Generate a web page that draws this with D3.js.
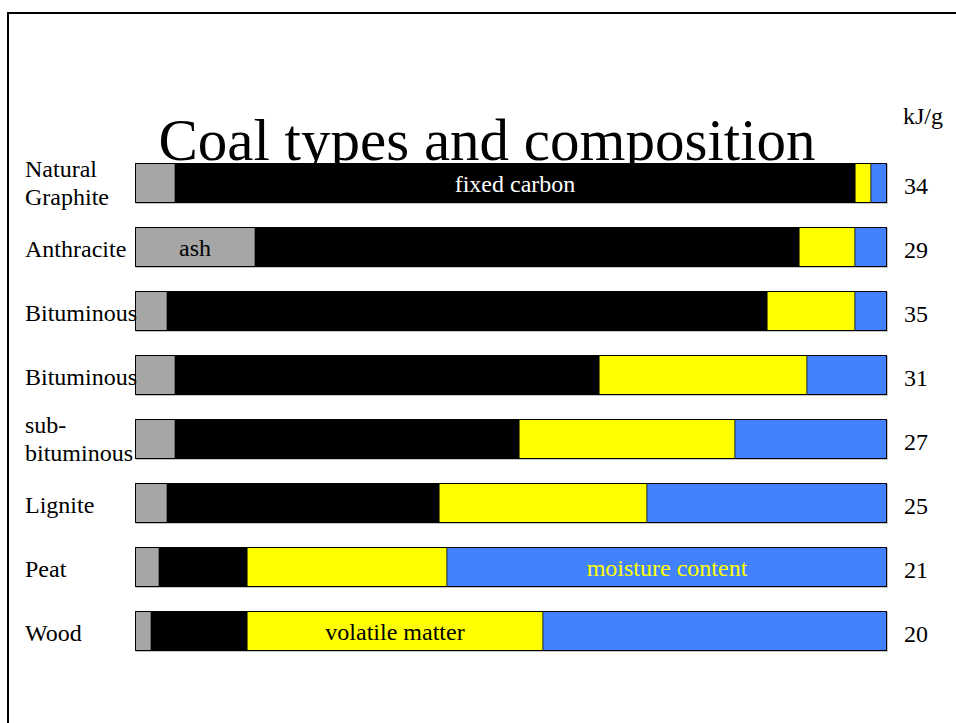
<!DOCTYPE html>
<html>
<head>
<meta charset="utf-8">
<script src="https://cdn.jsdelivr.net/npm/d3@7"></script>
<style>
  html, body { margin: 0; padding: 0; background: #fff; }
  svg { display: block; }
  text { font-family: "Liberation Serif", "Times New Roman", Times, serif; }
</style>
</head>
<body>
<svg id="chart" width="956" height="723"></svg>
<script>
// ---------- data (percent of composition) ----------
const categories = ["Natural\nGraphite", "Anthracite", "Bituminous", "Bituminous",
                    "sub-\nbituminous", "Lignite", "Peat", "Wood"];
const ash            = [5.3, 16.0, 4.3, 5.3, 5.3, 4.3, 3.2, 2.1];
const fixedCarbon    = [90.4, 72.3, 79.8, 56.4, 45.7, 36.2, 11.7, 12.8];
const volatileMatter = [2.1, 7.4, 11.7, 27.7, 28.7, 27.7, 26.6, 39.4];
const moisture       = [2.1, 4.3, 4.3, 10.6, 20.2, 31.9, 58.5, 45.7];
const energy         = [34, 29, 35, 31, 27, 25, 21, 20];   // kJ/g
const seriesKeys     = ["ash", "fixedCarbon", "volatileMatter", "moisture"];
const seriesColors   = ["#a6a6a6", "#000000", "#ffff00", "#4282ff"];
const seriesEdges    = ["#6e6e6e", "#000000", "#7a7400", "#2e5cb8"];
const title          = "Coal types and composition";
const unitLabel      = "kJ/g";
// in-bar annotations: [row index, series key, text, colour]
const annotations = [
  [0, "fixedCarbon", "fixed carbon", "#ffffff"],
  [1, "ash", "ash", "#000000"],
  [6, "moisture", "moisture content", "#ffff00"],
  [7, "volatileMatter", "volatile matter", "#000000"]
];

// ---------- build table ----------
const table = categories.map((c, i) => ({
  idx: i, name: c,
  ash: ash[i], fixedCarbon: fixedCarbon[i],
  volatileMatter: volatileMatter[i], moisture: moisture[i]
}));
const stacked = d3.stack().keys(seriesKeys).offset(d3.stackOffsetExpand)(table);

const svg = d3.select("#chart");
const W = 956, H = 723;

// frame
svg.append("path")
  .attr("d", `M8,${H + 5} V13 H${W + 5}`)
  .attr("fill", "none").attr("stroke", "#000").attr("stroke-width", 2);

const x = d3.scaleLinear().domain([0, 1]).rangeRound([135, 887]);
const y = d3.scaleBand().domain(d3.range(categories.length))
  .range([163, 651]).paddingInner(0.375).paddingOuter(0);
const color = d3.scaleOrdinal().domain(seriesKeys).range(seriesColors);
const edge = d3.scaleOrdinal().domain(seriesKeys).range(seriesEdges);

// title
svg.append("text")
  .attr("x", 487).attr("y", 160)
  .attr("text-anchor", "middle")
  .attr("font-size", 59)
  .attr("fill", "#000")
  .text(title);

// shadows
svg.append("g").selectAll("rect").data(table).join("rect")
  .attr("x", x(0) + 1).attr("y", d => y(d.idx) + 1)
  .attr("width", x(1) - x(0)).attr("height", y.bandwidth())
  .attr("fill", "#c4c4c4");

// segments
svg.append("g").selectAll("g").data(stacked).join("g")
  .attr("fill", s => color(s.key))
  .attr("stroke", s => edge(s.key))
  .selectAll("rect").data(s => s).join("rect")
  .attr("x", d => x(d[0]) + 0.5)
  .attr("y", (d, i) => y(i) + 0.5)
  .attr("width", d => Math.max(0, x(d[1]) - x(d[0]) - 1))
  .attr("height", y.bandwidth() - 1)
  .attr("stroke-width", 1);

// outer outlines
svg.append("g").selectAll("rect").data(table).join("rect")
  .attr("x", x(0) + 0.5).attr("y", d => y(d.idx) + 0.5)
  .attr("width", x(1) - x(0) - 1).attr("height", y.bandwidth() - 1)
  .attr("fill", "none").attr("stroke", "#000").attr("stroke-width", 1);

// category labels
const cat = svg.append("g").attr("font-size", 24).attr("fill", "#000");
table.forEach(d => {
  const lines = d.name.split("\n");
  const cy = y(d.idx) + y.bandwidth() / 2;
  const t = cat.append("text").attr("x", 25);
  if (lines.length === 1) {
    t.attr("y", cy + 10).text(lines[0]);
  } else {
    t.attr("y", cy - 6).text(lines[0]);
    cat.append("text").attr("x", 25).attr("y", cy + 22).text(lines[1]);
  }
});

// energy values
svg.append("text").attr("x", 903).attr("y", 124)
  .attr("font-size", 24).text(unitLabel);
svg.append("g").attr("font-size", 24).selectAll("text").data(energy).join("text")
  .attr("x", 904)
  .attr("y", (v, i) => y(i) + y.bandwidth() / 2 + 11)
  .text(v => v);

// annotations
annotations.forEach(([row, key, txt, col]) => {
  const s = stacked.find(s => s.key === key)[row];
  svg.append("text")
    .attr("x", (x(s[0]) + x(s[1])) / 2)
    .attr("y", y(row) + y.bandwidth() / 2 + 9)
    .attr("text-anchor", "middle")
    .attr("font-size", 24)
    .attr("fill", col)
    .text(txt);
});
</script>
</body>
</html>
